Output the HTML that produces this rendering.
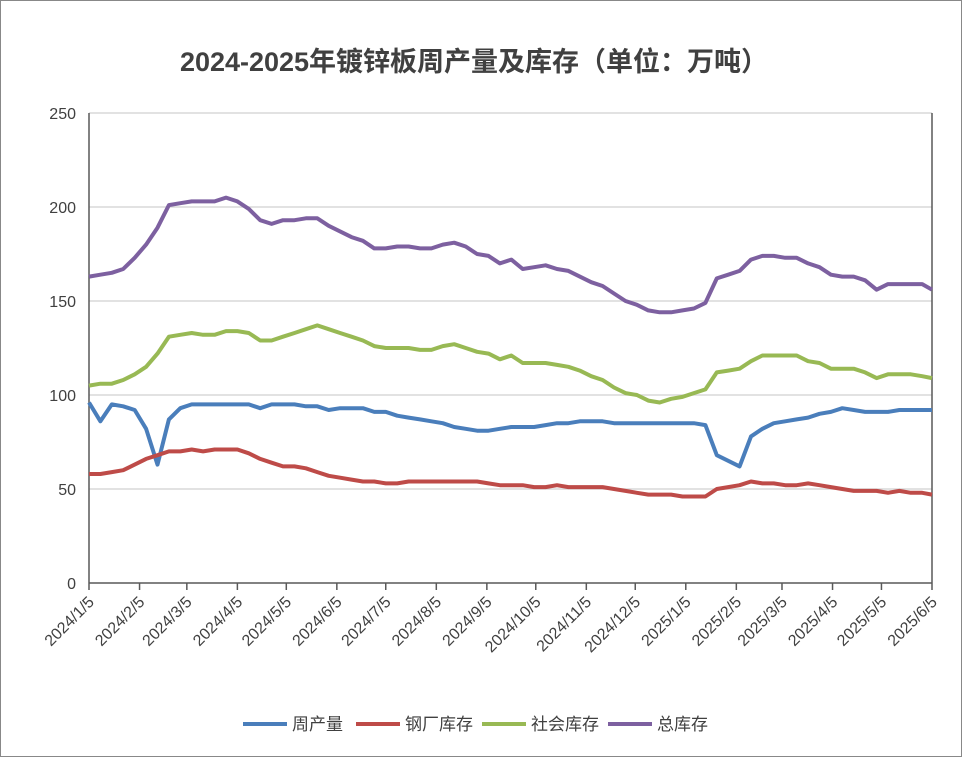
<!DOCTYPE html>
<html><head><meta charset="utf-8"><style>
body{margin:0;background:#fff}
svg{display:block;font-family:"Liberation Sans","Noto Sans CJK SC",sans-serif}
</style></head><body>
<svg id="c" width="962" height="757">
<rect x="0.5" y="0.5" width="961" height="756" fill="#fff" stroke="#888"/>
<text x="474" y="71" text-anchor="middle" font-size="27" font-weight="bold" fill="#404040">2024-2025年镀锌板周产量及库存（单位：万吨）</text>
<g id="grid"></g><g id="axes"></g><g id="series"></g><g id="legend"></g>
</svg>
<script>
const yTicks=[0,50,100,150,200,250];
const xTickLabels=["2024/1/5","2024/2/5","2024/3/5","2024/4/5","2024/5/5","2024/6/5","2024/7/5","2024/8/5","2024/9/5","2024/10/5","2024/11/5","2024/12/5","2025/1/5","2025/2/5","2025/3/5","2025/4/5","2025/5/5","2025/6/5"];
const seriesNames=["周产量","钢厂库存","社会库存","总库存"];
const production=[96,86,95,94,92,82,63,87,93,95,95,95,95,95,95,93,95,95,95,94,94,92,93,93,93,91,91,89,88,87,86,85,83,82,81,81,82,83,83,83,84,85,85,86,86,86,85,85,85,85,85,85,85,85,84,68,65,62,78,82,85,86,87,88,90,91,93,92,91,91,91,92,92,92,92];
const millStock=[58,58,59,60,63,66,68,70,70,71,70,71,71,71,69,66,64,62,62,61,59,57,56,55,54,54,53,53,54,54,54,54,54,54,54,53,52,52,52,51,51,52,51,51,51,51,50,49,48,47,47,47,46,46,46,50,51,52,54,53,53,52,52,53,52,51,50,49,49,49,48,49,48,48,47];
const socialStock=[105,106,106,108,111,115,122,131,132,133,132,132,134,134,133,129,129,131,133,135,137,135,133,131,129,126,125,125,125,124,124,126,127,125,123,122,119,121,117,117,117,116,115,113,110,108,104,101,100,97,96,98,99,101,103,112,113,114,118,121,121,121,121,118,117,114,114,114,112,109,111,111,111,110,109];
const totalStock=[163,164,165,167,173,180,189,201,202,203,203,203,205,203,199,193,191,193,193,194,194,190,187,184,182,178,178,179,179,178,178,180,181,179,175,174,170,172,167,168,169,167,166,163,160,158,154,150,148,145,144,144,145,146,149,162,164,166,172,174,174,173,173,170,168,164,163,163,161,156,159,159,159,159,156];
const colors=["#4a7ebb","#be4b48","#98b954","#7d60a0"];
const L=89,R=932,T=113,B=583;
const start=Date.UTC(2024,0,5),end=Date.UTC(2025,5,5);
const totalDays=(end-start)/864e5;
const xDay=d=>L+(R-L)*d/totalDays;
const y=v=>B-(B-T)*v/250;
const NS="http://www.w3.org/2000/svg";
function mk(t,a,p){const e=document.createElementNS(NS,t);for(const k in a)e.setAttribute(k,a[k]);p.appendChild(e);return e;}
const grid=document.getElementById('grid'),axes=document.getElementById('axes'),ser=document.getElementById('series'),leg=document.getElementById('legend');
yTicks.forEach(v=>{
 if(v>0){const g=mk('line',{x1:L,x2:R,y1:y(v),y2:y(v),stroke:'#d9d9d9','stroke-width':1.5},grid);
 
 }
 const t=mk('text',{x:76,y:y(v)+6,'text-anchor':'end','font-size':16,fill:'#404040'},axes);t.textContent=v;
 
 
});
[L,R].forEach((x,i)=>{const a=mk('line',{x1:x,x2:x,y1:T,y2:B,stroke:'#595959','stroke-width':1.5},axes);
 
 });
const xa=mk('line',{x1:L,x2:R,y1:B,y2:B,stroke:'#595959','stroke-width':1.5},axes);


xTickLabels.forEach(s=>{
 const [yy,mm,dd]=s.split('/').map(Number);
 const x=xDay((Date.UTC(yy,mm-1,dd)-start)/864e5);
 const tk=mk('line',{x1:x,x2:x,y1:B,y2:B+7,stroke:'#595959','stroke-width':1.5},axes);
 
 
 const t=mk('text',{x:x+6,y:B+20,'text-anchor':'end','font-size':16,fill:'#404040',transform:`rotate(-45 ${x+6} ${B+20})`},axes);
 t.textContent=s;
 
 
});
const data=[production,millStock,socialStock,totalStock];
const sn=['production-line','mill-stock-line','social-stock-line','total-stock-line'];
data.forEach((arr,si)=>{
 const pts=arr.map((v,i)=>xDay(Math.min(i*7,totalDays)).toFixed(1)+','+y(v).toFixed(1)).join(' ');
 const p=mk('polyline',{points:pts,fill:'none',stroke:colors[si],'stroke-width':4,'stroke-linejoin':'round'},ser);
 
 
});
const lx=[243,356,482,608];
seriesNames.forEach((n,i)=>{
 const g=mk('g',{},leg);
 
 
 mk('line',{x1:lx[i],x2:lx[i]+44,y1:724,y2:724,stroke:colors[i],'stroke-width':4},g);
 const t=mk('text',{x:lx[i]+49,y:730,'font-size':17,fill:'#404040'},g);t.textContent=n;
});
</script>
</body></html>
